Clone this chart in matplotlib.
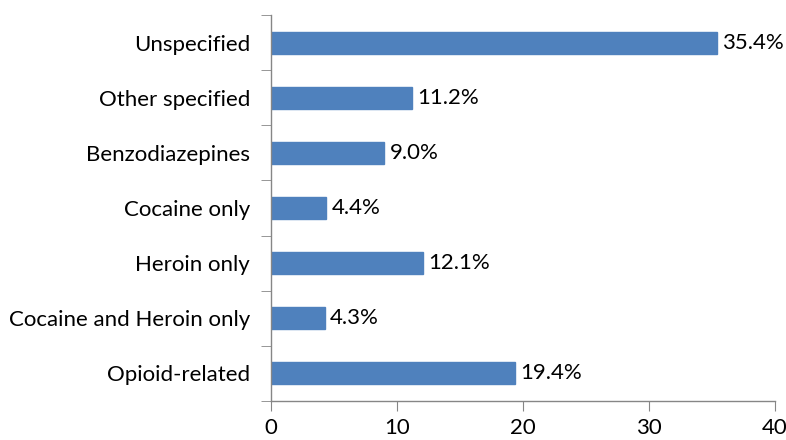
import matplotlib
matplotlib.use("Agg")
import matplotlib.pyplot as plt

categories = ["Opioid-related", "Cocaine and Heroin only", "Heroin only",
              "Cocaine only", "Benzodiazepines", "Other specified", "Unspecified"]
values = [19.4, 4.3, 12.1, 4.4, 9.0, 11.2, 35.4]
xticks = [0, 10, 20, 30, 40]

plt.rcParams['font.family'] = ['Lato', 'DejaVu Sans']
FS = 16

fig = plt.figure(figsize=(7.86, 4.4), dpi=100)
ax = fig.add_axes([271/786, 1-401/440, (775-271)/786, (401-15)/440])

ypos = list(range(len(categories)))
ax.barh(ypos, values, height=0.4, color="#4F81BD", edgecolor="#4F81BD")
for y, v in zip(ypos, values):
    ax.text(v + 0.4, y, f"{v:.1f}%", va="center", ha="left", fontsize=FS, color="black")

ax.set_xlim(0, 40)
ax.set_ylim(-0.5, len(categories) - 0.5)
ax.set_xticks(xticks)
ax.set_xticklabels([str(t) for t in xticks], fontsize=FS)
ax.set_yticks(ypos)
ax.set_yticklabels(categories, fontsize=FS)
ax.tick_params(axis='y', which='major', length=0, pad=15)
ax.set_yticks([i - 0.5 for i in range(len(categories) + 1)], minor=True)
ax.tick_params(axis='y', which='minor', length=7, color="#868686", direction='out')
ax.tick_params(axis='x', length=7, color="#868686", direction='out', pad=5)

for s in ["top", "right"]:
    ax.spines[s].set_visible(False)
for s in ["left", "bottom"]:
    ax.spines[s].set_color("#868686")
    ax.spines[s].set_linewidth(1)

fig.savefig("out.png", dpi=100)
